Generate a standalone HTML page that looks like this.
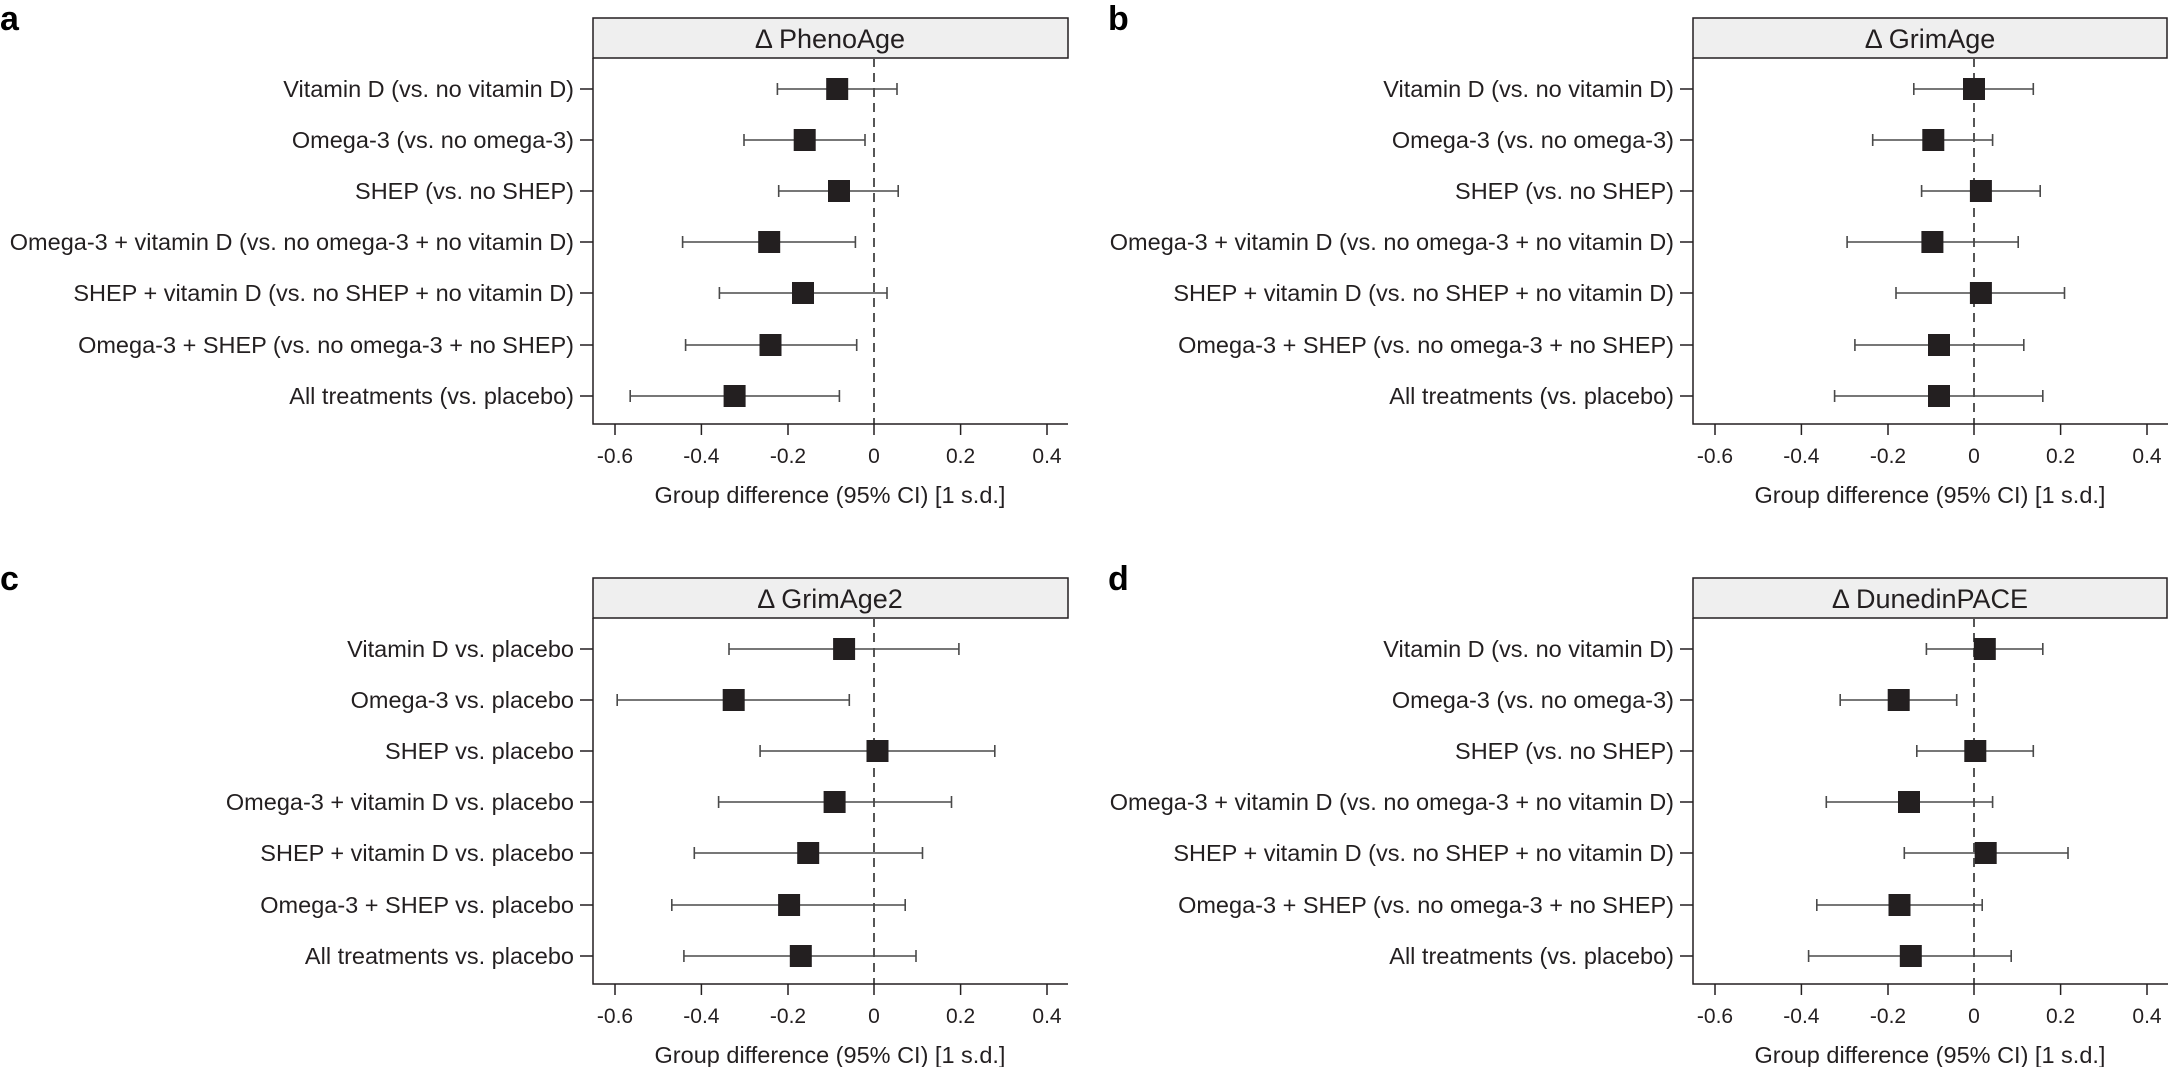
<!DOCTYPE html>
<html><head><meta charset="utf-8"><style>
html,body{margin:0;padding:0;background:#fff;}
svg{display:block;font-family:"Liberation Sans",sans-serif;}
.lab{font-size:23.5px;fill:#231f20;text-anchor:end;}
.tk{font-size:21px;fill:#231f20;text-anchor:middle;}
.xl{font-size:23.5px;fill:#231f20;text-anchor:middle;}
.st{font-size:27px;fill:#231f20;text-anchor:middle;}
.pl{font-size:34px;font-weight:bold;fill:#000;}
.ax{stroke:#231f20;stroke-width:1.5;fill:none;}
.eb{stroke:#4a4a4a;stroke-width:1.6;fill:none;}
.sq{fill:#231f20;}
.z{stroke:#555;stroke-width:2;stroke-dasharray:9,6;}
</style></head><body>
<svg width="2168" height="1067" viewBox="0 0 2168 1067" xmlns="http://www.w3.org/2000/svg">
<text class="pl" x="0" y="30">a</text>
<text class="pl" x="1108" y="30">b</text>
<text class="pl" x="0" y="590">c</text>
<text class="pl" x="1108" y="590">d</text>

<!-- Panel a -->
<g transform="translate(0,0)">
<rect x="593" y="18" width="475" height="40" fill="#efefef" stroke="#231f20" stroke-width="1.5"/>
<text class="st" x="830" y="48">Δ PhenoAge</text>
<line class="z" x1="874" y1="58" x2="874" y2="424"/>
<path class="ax" d="M593 58V424H1068M615 424v11M701.4 424v11M788 424v11M874 424v11M960.6 424v11M1047 424v11M580 89h13M580 140h13M580 191h13M580 242h13M580 293h13M580 345h13M580 396h13"/>
<text class="tk" x="615" y="463">-0.6</text><text class="tk" x="701.4" y="463">-0.4</text><text class="tk" x="788" y="463">-0.2</text><text class="tk" x="874" y="463">0</text><text class="tk" x="960.6" y="463">0.2</text><text class="tk" x="1047" y="463">0.4</text>
<text class="xl" x="830" y="503">Group difference (95% CI) [1 s.d.]</text>
<text class="lab" x="574" y="97">Vitamin D (vs. no vitamin D)</text>
<text class="lab" x="574" y="148">Omega-3 (vs. no omega-3)</text>
<text class="lab" x="574" y="199">SHEP (vs. no SHEP)</text>
<text class="lab" x="574" y="250">Omega-3 + vitamin D (vs. no omega-3 + no vitamin D)</text>
<text class="lab" x="574" y="301">SHEP + vitamin D (vs. no SHEP + no vitamin D)</text>
<text class="lab" x="574" y="353">Omega-3 + SHEP (vs. no omega-3 + no SHEP)</text>
<text class="lab" x="574" y="404">All treatments (vs. placebo)</text>
<path class="eb" d="M777.4 89H897M777.4 83v12M897 83v12 M744 140H865M744 134v12M865 134v12 M778.7 191H898.2M778.7 185v12M898.2 185v12 M682.6 242H855.4M682.6 236v12M855.4 236v12 M719.4 293H887M719.4 287v12M887 287v12 M685.6 345H856.7M685.6 339v12M856.7 339v12 M630.2 396H839.4M630.2 390v12M839.4 390v12"/>
<rect class="sq" x="826.2" y="78" width="22" height="22"/><rect class="sq" x="793.7" y="129" width="22" height="22"/><rect class="sq" x="828" y="180" width="22" height="22"/><rect class="sq" x="758.2" y="231" width="22" height="22"/><rect class="sq" x="792" y="282" width="22" height="22"/><rect class="sq" x="759.5" y="334" width="22" height="22"/><rect class="sq" x="723.6" y="385" width="22" height="22"/>
</g>

<!-- Panel b -->
<g transform="translate(1100,0)">
<rect x="593" y="18" width="474" height="40" fill="#efefef" stroke="#231f20" stroke-width="1.5"/>
<text class="st" x="830" y="48">Δ GrimAge</text>
<line class="z" x1="874" y1="58" x2="874" y2="424"/>
<path class="ax" d="M593 58V424H1068M615 424v11M701.4 424v11M788 424v11M874 424v11M960.6 424v11M1047 424v11M580 89h13M580 140h13M580 191h13M580 242h13M580 293h13M580 345h13M580 396h13"/>
<text class="tk" x="615" y="463">-0.6</text><text class="tk" x="701.4" y="463">-0.4</text><text class="tk" x="788" y="463">-0.2</text><text class="tk" x="874" y="463">0</text><text class="tk" x="960.6" y="463">0.2</text><text class="tk" x="1047" y="463">0.4</text>
<text class="xl" x="830" y="503">Group difference (95% CI) [1 s.d.]</text>
<text class="lab" x="574" y="97">Vitamin D (vs. no vitamin D)</text>
<text class="lab" x="574" y="148">Omega-3 (vs. no omega-3)</text>
<text class="lab" x="574" y="199">SHEP (vs. no SHEP)</text>
<text class="lab" x="574" y="250">Omega-3 + vitamin D (vs. no omega-3 + no vitamin D)</text>
<text class="lab" x="574" y="301">SHEP + vitamin D (vs. no SHEP + no vitamin D)</text>
<text class="lab" x="574" y="353">Omega-3 + SHEP (vs. no omega-3 + no SHEP)</text>
<text class="lab" x="574" y="404">All treatments (vs. placebo)</text>
<path class="eb" d="M813.8 89H933.3M813.8 83v12M933.3 83v12 M772.7 140H892.6M772.7 134v12M892.6 134v12 M821.6 191H940.2M821.6 185v12M940.2 185v12 M747.1 242H918.2M747.1 236v12M918.2 236v12 M796 293H964.5M796 287v12M964.5 287v12 M754.9 345H923.8M754.9 339v12M923.8 339v12 M734.6 396H942.8M734.6 390v12M942.8 390v12"/>
<rect class="sq" x="863" y="78" width="22" height="22"/><rect class="sq" x="822.3" y="129" width="22" height="22"/><rect class="sq" x="869.9" y="180" width="22" height="22"/><rect class="sq" x="821.4" y="231" width="22" height="22"/><rect class="sq" x="869.9" y="282" width="22" height="22"/><rect class="sq" x="828" y="334" width="22" height="22"/><rect class="sq" x="828" y="385" width="22" height="22"/>
</g>

<!-- Panel c -->
<g transform="translate(0,560)">
<rect x="593" y="18" width="475" height="40" fill="#efefef" stroke="#231f20" stroke-width="1.5"/>
<text class="st" x="830" y="48">Δ GrimAge2</text>
<line class="z" x1="874" y1="58" x2="874" y2="424"/>
<path class="ax" d="M593 58V424H1068M615 424v11M701.4 424v11M788 424v11M874 424v11M960.6 424v11M1047 424v11M580 89h13M580 140h13M580 191h13M580 242h13M580 293h13M580 345h13M580 396h13"/>
<text class="tk" x="615" y="463">-0.6</text><text class="tk" x="701.4" y="463">-0.4</text><text class="tk" x="788" y="463">-0.2</text><text class="tk" x="874" y="463">0</text><text class="tk" x="960.6" y="463">0.2</text><text class="tk" x="1047" y="463">0.4</text>
<text class="xl" x="830" y="503">Group difference (95% CI) [1 s.d.]</text>
<text class="lab" x="574" y="97">Vitamin D vs. placebo</text>
<text class="lab" x="574" y="148">Omega-3 vs. placebo</text>
<text class="lab" x="574" y="199">SHEP vs. placebo</text>
<text class="lab" x="574" y="250">Omega-3 + vitamin D vs. placebo</text>
<text class="lab" x="574" y="301">SHEP + vitamin D vs. placebo</text>
<text class="lab" x="574" y="353">Omega-3 + SHEP vs. placebo</text>
<text class="lab" x="574" y="404">All treatments vs. placebo</text>
<path class="eb" d="M729 89H958.9M729 83v12M958.9 83v12 M617.2 140H849.3M617.2 134v12M849.3 134v12 M760.1 191H994.8M760.1 185v12M994.8 185v12 M718.6 242H951.5M718.6 236v12M951.5 236v12 M694.3 293H922.5M694.3 287v12M922.5 287v12 M671.8 345H905.2M671.8 339v12M905.2 339v12 M683.9 396H916M683.9 390v12M916 390v12"/>
<rect class="sq" x="833.1" y="78" width="22" height="22"/><rect class="sq" x="722.7" y="129" width="22" height="22"/><rect class="sq" x="866.5" y="180" width="22" height="22"/><rect class="sq" x="823.6" y="231" width="22" height="22"/><rect class="sq" x="797.2" y="282" width="22" height="22"/><rect class="sq" x="778.1" y="334" width="22" height="22"/><rect class="sq" x="789.8" y="385" width="22" height="22"/>
</g>

<!-- Panel d -->
<g transform="translate(1100,560)">
<rect x="593" y="18" width="474" height="40" fill="#efefef" stroke="#231f20" stroke-width="1.5"/>
<text class="st" x="830" y="48">Δ DunedinPACE</text>
<line class="z" x1="874" y1="58" x2="874" y2="424"/>
<path class="ax" d="M593 58V424H1068M615 424v11M701.4 424v11M788 424v11M874 424v11M960.6 424v11M1047 424v11M580 89h13M580 140h13M580 191h13M580 242h13M580 293h13M580 345h13M580 396h13"/>
<text class="tk" x="615" y="463">-0.6</text><text class="tk" x="701.4" y="463">-0.4</text><text class="tk" x="788" y="463">-0.2</text><text class="tk" x="874" y="463">0</text><text class="tk" x="960.6" y="463">0.2</text><text class="tk" x="1047" y="463">0.4</text>
<text class="xl" x="830" y="503">Group difference (95% CI) [1 s.d.]</text>
<text class="lab" x="574" y="97">Vitamin D (vs. no vitamin D)</text>
<text class="lab" x="574" y="148">Omega-3 (vs. no omega-3)</text>
<text class="lab" x="574" y="199">SHEP (vs. no SHEP)</text>
<text class="lab" x="574" y="250">Omega-3 + vitamin D (vs. no omega-3 + no vitamin D)</text>
<text class="lab" x="574" y="301">SHEP + vitamin D (vs. no SHEP + no vitamin D)</text>
<text class="lab" x="574" y="353">Omega-3 + SHEP (vs. no omega-3 + no SHEP)</text>
<text class="lab" x="574" y="404">All treatments (vs. placebo)</text>
<path class="eb" d="M826.4 89H942.8M826.4 83v12M942.8 83v12 M740.2 140H856.7M740.2 134v12M856.7 134v12 M816.8 191H933.3M816.8 185v12M933.3 185v12 M726.3 242H892.6M726.3 236v12M892.6 236v12 M804.3 293H968M804.3 287v12M968 287v12 M716.8 345H882.2M716.8 339v12M882.2 339v12 M708.6 396H911.2M708.6 390v12M911.2 390v12"/>
<rect class="sq" x="873.8" y="78" width="22" height="22"/><rect class="sq" x="787.7" y="129" width="22" height="22"/><rect class="sq" x="864.3" y="180" width="22" height="22"/><rect class="sq" x="798" y="231" width="22" height="22"/><rect class="sq" x="874.7" y="282" width="22" height="22"/><rect class="sq" x="788.5" y="334" width="22" height="22"/><rect class="sq" x="799.8" y="385" width="22" height="22"/>
</g>
</svg>
</body></html>
